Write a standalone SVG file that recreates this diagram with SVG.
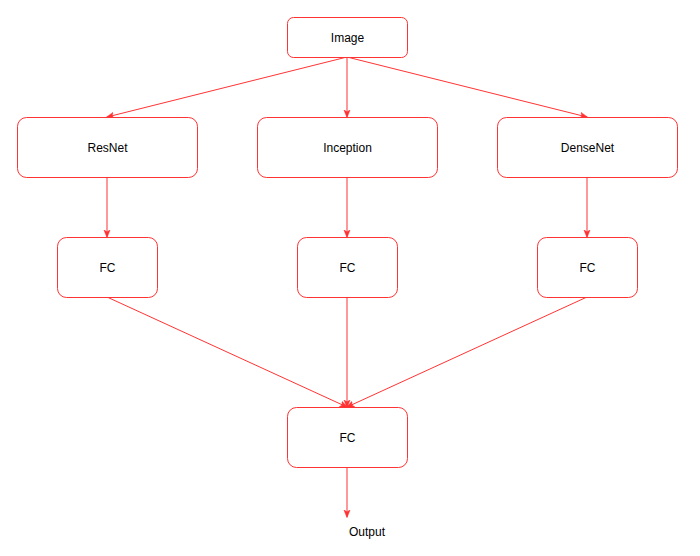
<svg xmlns="http://www.w3.org/2000/svg" width="700" height="556" viewBox="0 0 700 556">
<style>
.node rect{fill:#fff;stroke:#ff3333;stroke-width:1}
.node text, .lbl{font-family:"Liberation Sans",Arial,sans-serif;font-size:12px;fill:#000;text-anchor:middle;dominant-baseline:central}
.edge{stroke:#ff3333;stroke-width:1;fill:none}
</style>
<defs>
<marker id="arr" viewBox="0 0 10 10" refX="9" refY="5" markerWidth="8" markerHeight="8" markerUnits="userSpaceOnUse" orient="auto">
<path d="M0,1 L10,5 L0,9 L2.5,5 z" fill="#ff3333" stroke="#ff3333" stroke-width="0.5"/>
</marker>
</defs>
<rect width="700" height="556" fill="#fff"/>
<g id="connectors">
<line class="edge" x1="347" y1="57" x2="107" y2="117" marker-end="url(#arr)"/>
<line class="edge" x1="347" y1="57" x2="347" y2="117" marker-end="url(#arr)"/>
<line class="edge" x1="347" y1="57" x2="587" y2="117" marker-end="url(#arr)"/>
<line class="edge" x1="107" y1="177" x2="107" y2="237" marker-end="url(#arr)"/>
<line class="edge" x1="347" y1="177" x2="347" y2="237" marker-end="url(#arr)"/>
<line class="edge" x1="587" y1="177" x2="587" y2="237" marker-end="url(#arr)"/>
<line class="edge" x1="107" y1="297" x2="347" y2="407" marker-end="url(#arr)"/>
<line class="edge" x1="347" y1="297" x2="347" y2="407" marker-end="url(#arr)"/>
<line class="edge" x1="587" y1="297" x2="347" y2="407" marker-end="url(#arr)"/>
<line class="edge" x1="347" y1="467" x2="347" y2="517" marker-end="url(#arr)"/>
</g>
<g id="image" class="node"><rect x="287.5" y="17.5" width="120" height="40" rx="6"/><text x="347.5" y="37.5">Image</text></g>
<g id="resnet" class="node"><rect x="17.5" y="117.5" width="180" height="60" rx="9"/><text x="107.5" y="147.5">ResNet</text></g>
<g id="inception" class="node"><rect x="257.5" y="117.5" width="180" height="60" rx="9"/><text x="347.5" y="147.5">Inception</text></g>
<g id="densenet" class="node"><rect x="497.5" y="117.5" width="180" height="60" rx="9"/><text x="587.5" y="147.5">DenseNet</text></g>
<g id="fc1" class="node"><rect x="57.5" y="237.5" width="100" height="60" rx="9"/><text x="107.5" y="267.5">FC</text></g>
<g id="fc2" class="node"><rect x="297.5" y="237.5" width="100" height="60" rx="9"/><text x="347.5" y="267.5">FC</text></g>
<g id="fc3" class="node"><rect x="537.5" y="237.5" width="100" height="60" rx="9"/><text x="587.5" y="267.5">FC</text></g>
<g id="fc-final" class="node"><rect x="287.5" y="407.5" width="120" height="60" rx="9"/><text x="347.5" y="437.5">FC</text></g>
<g id="output"><text class="lbl" x="367" y="532">Output</text></g>
</svg>
